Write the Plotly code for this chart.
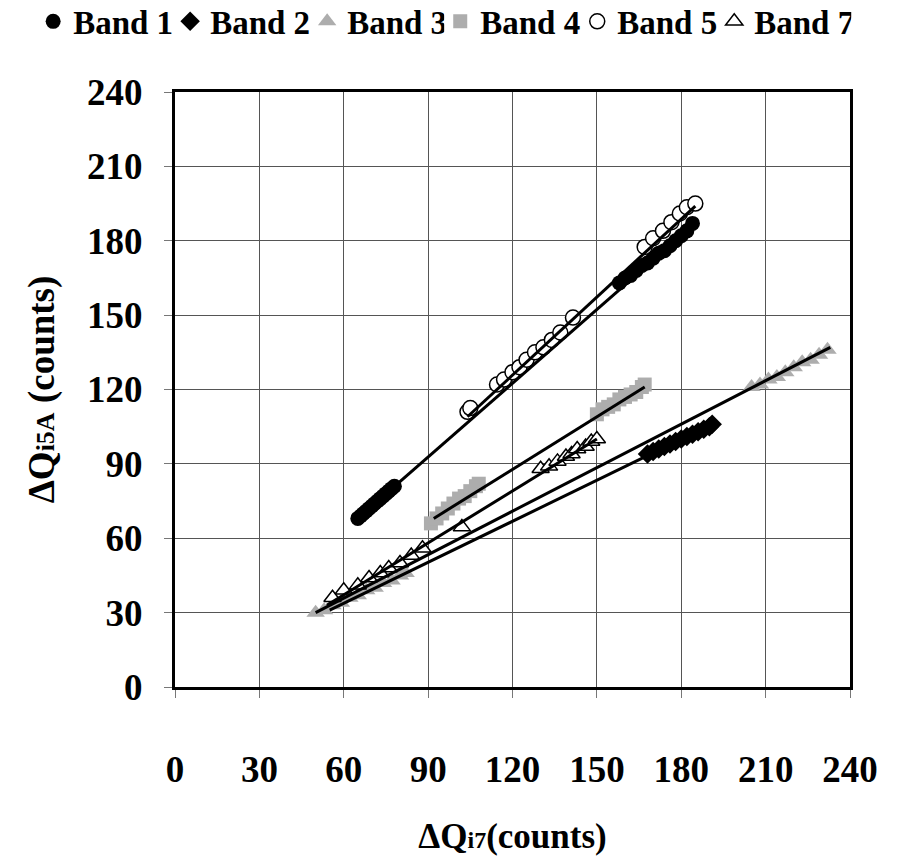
import plotly.graph_objects as go

# ---- data ----
band1_x = [65, 66, 67, 68, 69, 70, 71, 72, 73, 74, 75, 76, 77, 78,
           158, 160, 162, 164, 166, 168, 170, 172, 174, 176, 178, 180, 182, 184]
band1_y = [68, 69, 70, 71, 72, 73, 74, 75, 76, 77, 78, 79, 80, 81,
           163, 165, 166, 168, 170, 171, 173, 175, 176, 178, 180, 182, 184, 187]

band2_x = [168, 170, 172, 174, 176, 178, 180, 182, 184, 186, 188, 190, 191]
band2_y = [94, 95, 96, 97, 98, 99, 100, 101, 102, 103, 104, 105, 106]

band3_x = [50, 53, 56, 59, 62, 65, 68, 71, 74, 77, 80, 82,
           205, 208, 211, 214, 217, 220, 223, 226, 229, 232]
band3_y = [30, 31, 33, 34, 36, 37, 39, 40, 42, 43, 45, 46,
           121, 122, 124, 125, 127, 129, 131, 132, 134, 136]

band4_x = [91, 93, 95, 97, 99, 101, 103, 105, 107, 108,
           150, 152, 154, 156, 158, 160, 162, 164, 166, 167]
band4_y = [66, 68, 70, 72, 74, 76, 77, 79, 81, 82,
           110, 112, 113, 114, 116, 117, 118, 119, 121, 122]

band5_x = [104, 105, 114.5, 117, 120, 122.5, 125, 128, 131, 134, 137, 141.5,
           167, 170, 173.5, 176.5, 179.5, 182, 185]
band5_y = [111, 112.5, 122, 124, 127, 129, 132, 135, 137, 140, 143, 149,
           177.5, 181, 184, 187.5, 191, 193.5, 195]

band7_x = [56, 60, 65, 69, 73, 76, 80, 84, 88, 102,
           130, 133, 136, 139, 141, 143, 146, 148, 150]
band7_y = [36, 39, 41, 44, 46, 48, 50, 53, 56, 64.5,
           88, 89, 91, 93, 94, 96, 97, 99, 100]

# fitted trend lines (end points)
fit1_x, fit1_y = [65, 185], [68, 187]
fit2_x, fit2_y = [55, 191], [31, 106]
fit3_x, fit3_y = [50, 233], [30, 137]
fit4_x, fit4_y = [92, 167], [68, 121]
fit5_x, fit5_y = [104, 185], [109, 194]
fit7_x, fit7_y = [54, 150], [33, 100]

ticks = [0, 30, 60, 90, 120, 150, 180, 210, 240]

FONT = "Liberation Serif"
GREY = "#adadad"

fig = go.Figure()

def pts(x, y, name, symbol, color, line_color, size, legend):
    fig.add_trace(go.Scatter(
        x=x, y=y, mode="markers", name=name, legend=legend,
        marker=dict(symbol=symbol, size=size, color=color,
                    line=dict(color=line_color, width=1.5 if line_color != color else 0)),
    ))

pts(band1_x, band1_y, "Band 1", "circle", "black", "black", 15, "legend")
pts(band2_x, band2_y, "Band 2", "diamond", "black", "black", 15, "legend")
pts(band3_x, band3_y, "Band 3", "triangle-up", GREY, GREY, 16, "legend")
pts(band4_x, band4_y, "Band 4", "square", GREY, GREY, 14, "legend2")
pts(band5_x, band5_y, "Band 5", "circle", "white", "black", 15, "legend2")
pts(band7_x, band7_y, "Band 7", "triangle-up", "white", "black", 15, "legend2")

for fx, fy in [(fit1_x, fit1_y), (fit2_x, fit2_y), (fit3_x, fit3_y),
               (fit4_x, fit4_y), (fit5_x, fit5_y), (fit7_x, fit7_y)]:
    fig.add_trace(go.Scatter(x=fx, y=fy, mode="lines", showlegend=False,
                             line=dict(color="black", width=3), hoverinfo="skip"))

axis_common = dict(
    range=[0, 240], tickvals=ticks, ticktext=[str(t) for t in ticks],
    showgrid=True, gridcolor="#555555", gridwidth=1,
    showline=True, linecolor="black", linewidth=3, mirror=True,
    ticks="outside", ticklen=8, tickcolor="#777777", tickwidth=1,
    tickfont=dict(family=FONT, size=37, color="black", weight="bold"),
    zeroline=False, fixedrange=True,
)

legend_common = dict(
    orientation="h", xref="container", yref="container",
    y=0.975, xanchor="left", yanchor="middle",
    font=dict(family=FONT, size=33, weight="bold"),
    itemwidth=30, entrywidth=92, entrywidthmode="pixels",
    tracegroupgap=0, bgcolor="rgba(0,0,0,0)",
)

fig.update_layout(
    width=921, height=856,
    paper_bgcolor="white", plot_bgcolor="white",
    margin=dict(l=175, r=71, t=92, b=169, autoexpand=False),
    font=dict(family=FONT, color="black"),
    xaxis=dict(**axis_common, ticklabelstandoff=40,
               title=dict(text="ΔQ<span style='font-size:24px'>i7</span>(counts)",
                          font=dict(family=FONT, size=35, weight="bold"), standoff=55)),
    yaxis=dict(**axis_common, ticklabelstandoff=14,
               title=dict(text="ΔQ<span style='font-size:26px'>i5A</span> (counts)",
                          font=dict(family=FONT, size=37, weight="bold"), standoff=22)),
    legend=dict(**legend_common, x=0.036),
    legend2=dict(**legend_common, x=0.478),
    showlegend=True,
)

fig.write_html("out.html", config={"displayModeBar": False},
               post_script="document.body.style.margin='0';document.body.style.overflow='hidden';")
